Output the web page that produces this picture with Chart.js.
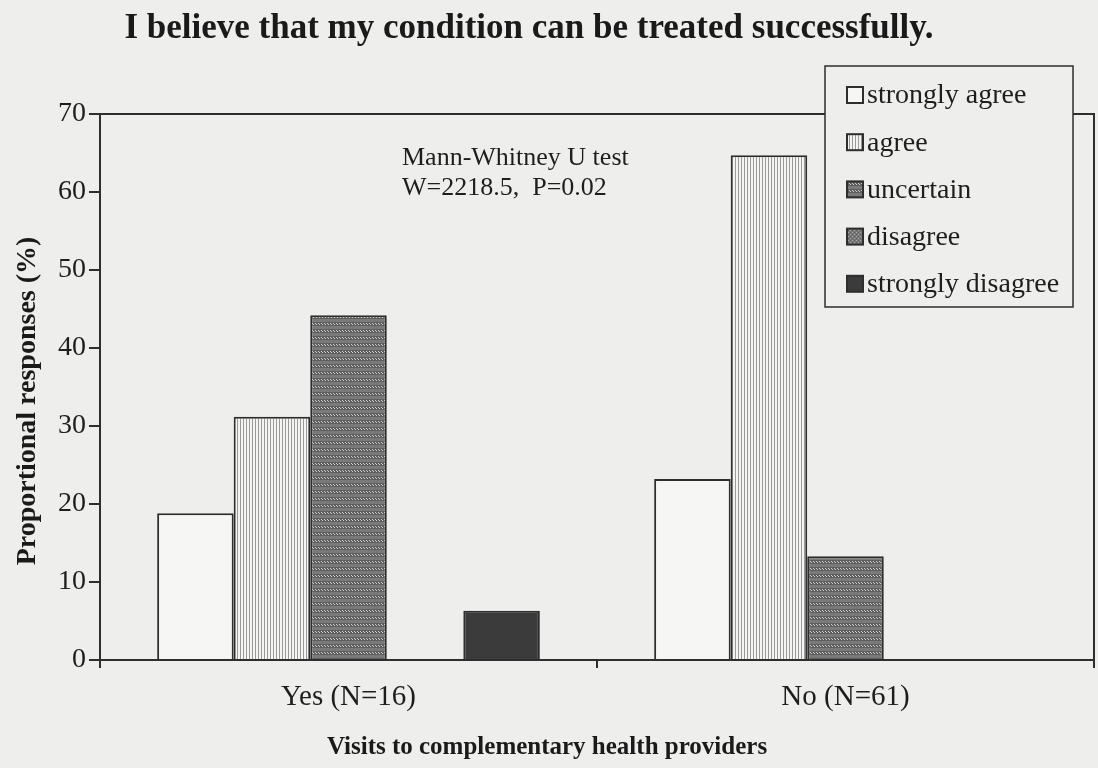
<!DOCTYPE html>
<html>
<head>
<meta charset="utf-8">
<script src="https://cdn.jsdelivr.net/npm/chart.js@4.4.1/dist/chart.umd.min.js"></script>
<style>
  html, body { margin: 0; padding: 0; background: #eeeeec; }
  #wrap { width: 1098px; height: 768px; position: relative; }
</style>
</head>
<body>
<div id="wrap"><canvas id="c" width="1098" height="768"></canvas></div>
<script>
// Response shares (%) by whether the respondent visits complementary health providers
const categories = ['Yes (N=16)', 'No (N=61)'];
const seriesNames = ['strongly agree', 'agree', 'uncertain', 'disagree', 'strongly disagree'];
const stronglyAgree = [18.8, 23.2];
const agree = [31.2, 64.7];
const uncertain = [44.2, 13.3];
const disagree = [0, 0];
const stronglyDisagree = [6.3, 0];
const yTickValues = [0, 10, 20, 30, 40, 50, 60, 70];

const chartTitle = 'I believe that my condition can be treated successfully.';
const xTitle = 'Visits to complementary health providers';
const yTitle = 'Proportional responses (%)';
const testNote = ['Mann-Whitney U test', 'W=2218.5,  P=0.02'];

const SERIF = "'Liberation Serif', 'Times New Roman', serif";
const INK = '#2e2e2e';
const PAPER = '#eeeeec';

// Small repeating tiles imitating the printed fill patterns
function makePattern(w, h, draw) {
  const cv = document.createElement('canvas');
  cv.width = w; cv.height = h;
  const g = cv.getContext('2d');
  draw(g);
  return g.createPattern(cv, 'repeat');
}
const fillAgree = makePattern(3, 3, g => {
  g.fillStyle = '#f4f4f2'; g.fillRect(0, 0, 3, 3);
  g.fillStyle = '#9a9a9a'; g.fillRect(0, 0, 1, 3);
});
const fillUncertain = makePattern(6, 7, g => {
  g.fillStyle = '#5e5e5e'; g.fillRect(0, 0, 6, 7);
  g.fillStyle = '#7a7a7a'; g.fillRect(0, 4, 6, 3);
  g.fillStyle = '#d0d0d0';
  g.fillRect(0, 1, 1, 1); g.fillRect(1, 2, 1, 1);
  g.fillRect(3, 1, 1, 1); g.fillRect(4, 2, 1, 1);
});
const fillDisagree = makePattern(4, 4, g => {
  g.fillStyle = '#777'; g.fillRect(0, 0, 4, 4);
  g.fillStyle = '#a8a8a8'; g.fillRect(0, 0, 1, 1); g.fillRect(2, 2, 1, 1);
  g.fillStyle = '#5a5a5a'; g.fillRect(2, 0, 1, 1); g.fillRect(0, 2, 1, 1);
});
const fillStronglyDisagree = '#3b3b3b';

const seriesValues = [stronglyAgree, agree, uncertain, disagree, stronglyDisagree];
const seriesFills = ['#f6f6f4', fillAgree, fillUncertain, fillDisagree, fillStronglyDisagree];

const datasets = seriesNames.map((name, i) => ({
  label: name,
  data: seriesValues[i],
  backgroundColor: seriesFills[i],
  borderColor: INK,
  borderWidth: 2,
  borderSkipped: 'start',
  categoryPercentage: 0.77,
  barPercentage: 1.0
}));

// Heading, plot frame, y-axis title, statistics note and boxed legend
const decorations = {
  id: 'decorations',
  beforeDraw(chart) {
    const ctx = chart.ctx;
    ctx.save();
    ctx.fillStyle = PAPER;
    ctx.fillRect(0, 0, chart.width, chart.height);
    ctx.fillStyle = '#1a1a1a';
    ctx.font = 'bold 35px ' + SERIF;
    ctx.textAlign = 'center';
    ctx.textBaseline = 'middle';
    ctx.fillText(chartTitle, 529, 29);
    ctx.restore();
  },
  afterDatasetsDraw(chart) {
    const { ctx, chartArea: a } = chart;
    ctx.save();
    ctx.strokeStyle = INK;
    ctx.lineWidth = 2;
    ctx.strokeRect(a.left, a.top, a.right - a.left, a.bottom - a.top);

    ctx.fillStyle = '#1e1e1e';
    ctx.font = '26px ' + SERIF;
    ctx.textAlign = 'left';
    ctx.textBaseline = 'middle';
    ctx.fillText(testNote[0], 402, 158);
    ctx.fillText(testNote[1], 402, 188);

    ctx.translate(28, 401);
    ctx.rotate(-Math.PI / 2);
    ctx.font = 'bold 28px ' + SERIF;
    ctx.textAlign = 'center';
    ctx.fillStyle = '#1a1a1a';
    ctx.fillText(yTitle, 0, 0);
    ctx.restore();
  },
  afterDraw(chart) {
    const ctx = chart.ctx;
    const box = { x: 825, y: 66, w: 248, h: 241 };
    ctx.save();
    ctx.fillStyle = PAPER;
    ctx.fillRect(box.x, box.y, box.w, box.h);
    ctx.strokeStyle = INK;
    ctx.lineWidth = 1.5;
    ctx.strokeRect(box.x, box.y, box.w, box.h);
    ctx.font = '28px ' + SERIF;
    ctx.textAlign = 'left';
    ctx.textBaseline = 'middle';
    chart.data.datasets.forEach((ds, i) => {
      const cy = 95 + i * 47.2;
      ctx.fillStyle = ds.backgroundColor;
      ctx.fillRect(847, cy - 8, 16, 16);
      ctx.lineWidth = 2;
      ctx.strokeRect(847, cy - 8, 16, 16);
      ctx.fillStyle = '#1e1e1e';
      ctx.fillText(ds.label, 867, cy + 1);
    });
    ctx.restore();
  }
};

new Chart(document.getElementById('c'), {
  type: 'bar',
  data: { labels: categories, datasets },
  options: {
    responsive: false,
    animation: false,
    devicePixelRatio: 1,
    layout: { padding: { left: 0, right: 4, top: 114, bottom: 0 } },
    plugins: {
      legend: { display: false },
      tooltip: { enabled: false },
      title: { display: false },
      subtitle: {
        display: true,
        position: 'bottom',
        text: xTitle,
        color: '#1a1a1a',
        font: { family: SERIF, size: 25, weight: 'bold', lineHeight: 1.2 },
        padding: { top: 0, bottom: 5 }
      }
    },
    scales: {
      x: {
        offset: true,
        grid: { display: true, drawOnChartArea: false, drawTicks: true, tickLength: 8, offset: true, color: INK, lineWidth: 2 },
        border: { display: true, color: INK, width: 2 },
        ticks: { color: '#1e1e1e', font: { family: SERIF, size: 29 }, padding: 12 },
        afterFit(scale) { scale.height = 73; }
      },
      y: {
        min: 0, max: 70,
        afterBuildTicks(scale) { scale.ticks = yTickValues.map(v => ({ value: v })); },
        grid: { display: true, drawOnChartArea: false, drawTicks: true, tickLength: 11, color: INK, lineWidth: 2 },
        border: { display: true, color: INK, width: 2 },
        ticks: { color: '#1e1e1e', font: { family: SERIF, size: 28 }, padding: 3 },
        afterFit(scale) { scale.width = 100; }
      }
    }
  },
  plugins: [decorations]
});
</script>
</body>
</html>
